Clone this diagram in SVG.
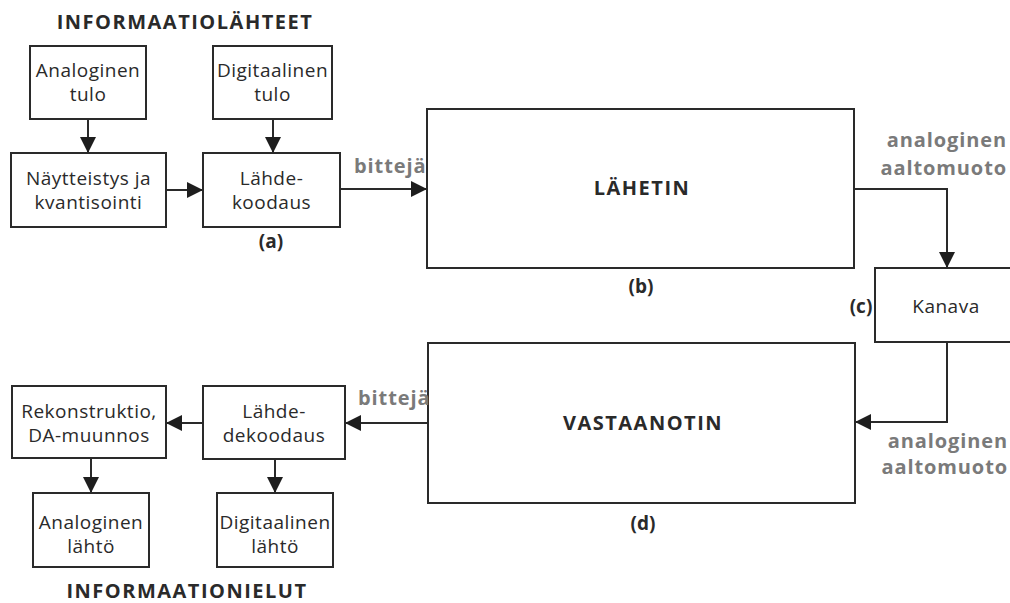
<svg xmlns="http://www.w3.org/2000/svg" width="1010" height="603" viewBox="0 0 1010 603">
<defs>
<style>
.box{fill:#fff;stroke:#2a2a2a;stroke-width:2}
.t{font-family:"Open Sans","Noto Sans","DejaVu Sans",sans-serif;font-size:19px;letter-spacing:0.5px;fill:#2a2a2a;text-anchor:middle}
.b{font-family:"Open Sans","Noto Sans","DejaVu Sans",sans-serif;font-size:19px;font-weight:bold;fill:#2a2a2a;text-anchor:middle}
.h{font-family:"Open Sans","Noto Sans","DejaVu Sans",sans-serif;font-size:20px;font-weight:bold;letter-spacing:1.5px;fill:#2a2a2a;text-anchor:middle}
.g{font-family:"Open Sans","Noto Sans","DejaVu Sans",sans-serif;font-size:20px;font-weight:bold;letter-spacing:0.9px;fill:#7a7a7a}
.c{fill:none;stroke:#2a2a2a;stroke-width:2}
</style>
<marker id="ah" markerUnits="userSpaceOnUse" markerWidth="16" markerHeight="16" viewBox="0 0 16 16" refX="16" refY="8" orient="auto">
<path d="M0,0 L16,8 L0,16 z" fill="#1e1e1e"/>
</marker>
</defs>
<rect width="1010" height="603" fill="#ffffff"/>

<g id="title-sources"><text class="h" x="185" y="29">INFORMAATIOLÄHTEET</text></g>
<g id="title-sinks"><text class="h" x="187" y="598" letter-spacing="1.4">INFORMAATIONIELUT</text></g>

<g id="connectors">
<path class="c" d="M88,119 V153" marker-end="url(#ah)"/>
<path class="c" d="M273,119 V153" marker-end="url(#ah)"/>
<path class="c" d="M166,190 H203" marker-end="url(#ah)"/>
<path class="c" d="M340,189 H427" marker-end="url(#ah)"/>
<path class="c" d="M854,189 H947 V268" marker-end="url(#ah)"/>
<path class="c" d="M947,342 V422 H855" marker-end="url(#ah)"/>
<path class="c" d="M428,423 H345" marker-end="url(#ah)"/>
<path class="c" d="M203,423 H166" marker-end="url(#ah)"/>
<path class="c" d="M91,458 V493" marker-end="url(#ah)"/>
<path class="c" d="M275,459 V493" marker-end="url(#ah)"/>
</g>

<g id="analog-in"><rect class="box" x="30" y="46" width="116" height="73"/><text class="t" x="88" y="77" letter-spacing="0">Analoginen</text><text class="t" x="88" y="101">tulo</text></g>
<g id="digital-in"><rect class="box" x="213" y="46" width="119" height="73"/><text class="t" x="272.5" y="77" letter-spacing="0">Digitaalinen</text><text class="t" x="272.5" y="101">tulo</text></g>
<g id="sampling"><rect class="box" x="11" y="153" width="155" height="74"/><text class="t" x="88.5" y="185" letter-spacing="1">Näytteistys ja</text><text class="t" x="88.5" y="209" letter-spacing="1">kvantisointi</text></g>
<g id="source-coding"><rect class="box" x="203" y="153" width="137" height="74"/><text class="t" x="271.5" y="185">Lähde-</text><text class="t" x="271.5" y="209">koodaus</text><text class="b" x="271" y="248">(a)</text></g>
<g id="bits-top"><text class="g" x="354" y="173" letter-spacing="0">bittejä</text></g>
<g id="transmitter"><rect class="box" x="427" y="109" width="427" height="159"/><text class="h" x="642" y="195" letter-spacing="0.8">LÄHETIN</text><text class="b" x="641" y="293">(b)</text></g>
<g id="wave-top"><text class="g" x="1007" y="147" text-anchor="end">analoginen</text><text class="g" x="1007" y="175" text-anchor="end">aaltomuoto</text></g>
<g id="channel"><rect class="box" x="875" y="268" width="150" height="74"/><text class="t" x="946" y="313" letter-spacing="1">Kanava</text><text class="b" x="861" y="313">(c)</text></g>
<g id="wave-bottom"><text class="g" x="1008" y="448" text-anchor="end" font-size="19" letter-spacing="1.3">analoginen</text><text class="g" x="1008" y="474" text-anchor="end" font-size="19" letter-spacing="1.3">aaltomuoto</text></g>
<g id="receiver"><rect class="box" x="428" y="343" width="427" height="160"/><text class="h" x="643" y="430" letter-spacing="0.7">VASTAANOTIN</text><text class="b" x="643" y="530">(d)</text></g>
<g id="bits-bottom"><text class="g" x="358" y="405" letter-spacing="0">bittejä</text></g>
<g id="source-decoding"><rect class="box" x="203" y="386" width="142" height="73"/><text class="t" x="274" y="418">Lähde-</text><text class="t" x="274" y="442">dekoodaus</text></g>
<g id="reconstruction"><rect class="box" x="12" y="386" width="154" height="72"/><text class="t" x="89" y="418" letter-spacing="0.8">Rekonstruktio,</text><text class="t" x="89" y="442">DA-muunnos</text></g>
<g id="analog-out"><rect class="box" x="33" y="493" width="116" height="74"/><text class="t" x="91" y="529" letter-spacing="0">Analoginen</text><text class="t" x="91" y="553">lähtö</text></g>
<g id="digital-out"><rect class="box" x="217" y="493" width="116" height="74"/><text class="t" x="275" y="529" letter-spacing="0">Digitaalinen</text><text class="t" x="275" y="553">lähtö</text></g>
</svg>
